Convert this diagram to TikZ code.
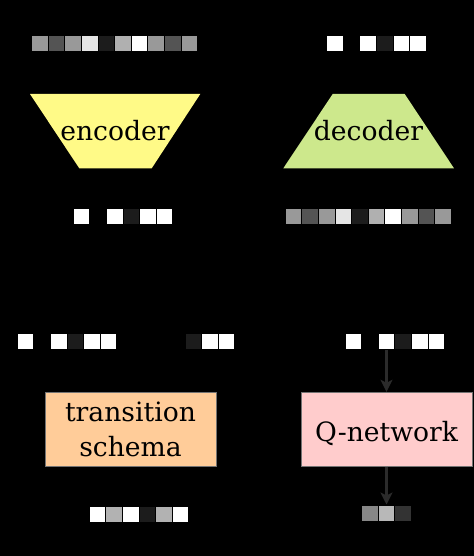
\documentclass[tikz,border=0pt]{standalone}
\usepackage{fontspec}
\setmainfont{DejaVu Serif}
\usetikzlibrary{arrows.meta}

% one row of grey cells: name, left x, centre y, whiteness list
\newcommand{\cellrow}[4]{%
  \foreach \g [count=\i] in {#4}
    \node[cell, fill=white!\g!black] (#1\i) at ({#2+(\i-1)*16.6+8.3}, #3) {};
}

\begin{document}
\begin{tikzpicture}[x=0.5pt, y=-0.5pt,
    cell/.style={draw=black, line width=0.5pt, inner sep=0pt,
      minimum width=8.3pt, minimum height=8pt},
    block/.style={draw=black!55, line width=0.5pt, align=center,
      minimum width=85.5pt, minimum height=37pt, inner sep=0pt,
      font=\fontsize{13.3}{17.3}\selectfont},
    word/.style={inner sep=0pt, font=\fontsize{13.3}{17.3}\selectfont},
    arr/.style={draw=black!83, line width=1.2pt, -{Stealth[length=6pt, width=6pt, inset=1.5pt]}}]
    \fill[black] (0,0) rectangle (474,556);
    % encoder and decoder
    \fill[fill={rgb,255:red,255;green,250;blue,135}]
      (30,94) -- (200.3,94) -- (151.7,168.3) -- (79.3,168.3) -- cycle;
    \fill[fill={rgb,255:red,205;green,232;blue,140}]
      (332.7,94) -- (404.7,94) -- (454,168.3) -- (283.3,168.3) -- cycle;
    \node[word] (enc) at (115,131) {encoder};
    \node[word] (dec) at (368.5,131) {decoder};
    % vectors
    \cellrow{x}{31.7}{43.8}{60,33,60,90,11,69,100,60,33,60}
    \cellrow{t}{326.7}{43.8}{100,0,100,11,100,100}
    \cellrow{z}{73.3}{216.7}{100,0,100,11,100,100}
    \cellrow{r}{285.3}{216.7}{60,33,60,90,11,69,100,60,33,60}
    \cellrow{s}{17.3}{341.7}{100,0,100,11,100,100}
    \cellrow{a}{185}{341.7}{11,100,100}
    \cellrow{q}{345}{341.7}{100,0,100,11,100,100}
    \cellrow{n}{89.3}{514.3}{100,70,100,11,70,100}
    \cellrow{v}{361.6}{513}{53,72,20}
    % boxes
    \node[block, fill={rgb,255:red,255;green,204;blue,153}] (trans) at (130.5,429.3) {transition\\schema};
    \node[block, fill={rgb,255:red,255;green,204;blue,204}] (qnet) at (386.5,429.3) {};
    \node[word] (qtext) at (386.5,433.5) {Q-network};
    \draw[arr] (q3.south) -- (qnet.north);
    \draw[arr] (qnet.south) -- (v2.north);
\end{tikzpicture}
\end{document}
